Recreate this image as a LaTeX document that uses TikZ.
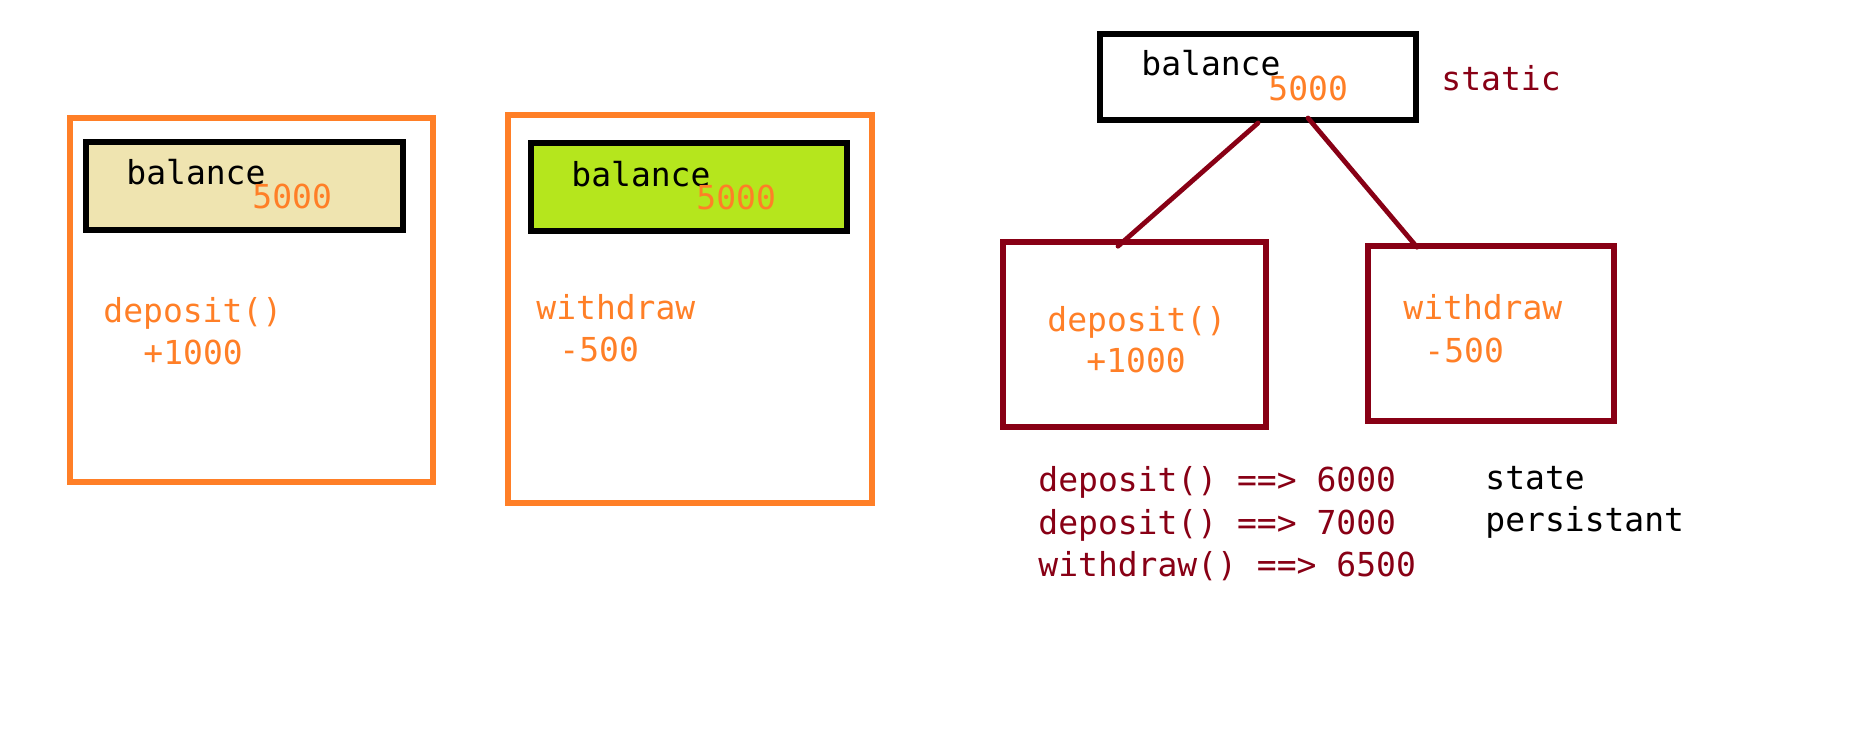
\documentclass[tikz,border=0pt]{standalone}
\usepackage{fontspec}
\setmonofont{DejaVu Sans Mono}
\definecolor{paintorange}{HTML}{FF7F27}
\definecolor{tan}{HTML}{EFE4B0}
\definecolor{lime}{HTML}{B5E61D}
\definecolor{darkred}{HTML}{880015}
\tikzset{
  frame/.style={draw=paintorange,line width=2.8pt},
  var/.style={draw=black,line width=3pt},
  meth/.style={draw=darkred,line width=2.8pt},
  code/.style={font=\ttfamily\fontsize{16.5}{20}\selectfont,inner sep=0pt,anchor=base west},
  link/.style={draw=darkred,line width=2.4pt,line cap=round},
}

\begin{document}
\begin{tikzpicture}[x=0.5pt,y=-0.5pt]
  \useasboundingbox (0,0) rectangle (1852,743);
  \node [frame,minimum width=181.5pt,minimum height=182pt] (obja) at (251.5,300) {};
  \node [var,fill=tan,minimum width=158.5pt,minimum height=44pt] (bala) at (244.5,186) {};
  \node [code] (balta) at (126,185) {balance};
  \node [code,paintorange] (vala) at (252,209) {5000};
  \node [code,paintorange] (depa) at (103,322) {deposit()};
  \node [code,paintorange] (amta) at (143,364) {+1000};

  \node [frame,minimum width=182pt,minimum height=194pt] (objb) at (690,309) {};
  \node [var,fill=lime,minimum width=158pt,minimum height=44pt] (balb) at (689,187) {};
  \node [code] (baltb) at (571,187) {balance};
  \node [code,paintorange] (valb) at (696,210) {5000};
  \node [code,paintorange] (withb) at (536,320) {withdraw};
  \node [code,paintorange] (amtb) at (559,361) {-500};

  \node [var,minimum width=158pt,minimum height=43pt] (stat) at (1258,77) {};
  \node [code] (balts) at (1141,76) {balance};
  \node [code,paintorange] (vals) at (1268,101) {5000};
  \node [code,darkred] (statl) at (1441,91) {static};

  \node [meth,minimum width=131.5pt,minimum height=92.5pt] (dep) at (1134.5,334.5) {};
  \node [code,paintorange] (depl) at (1047,331) {deposit()};
  \node [code,paintorange] (depn) at (1086,372) {+1000};
  \node [meth,minimum width=123pt,minimum height=87.5pt] (with) at (1491,333.5) {};
  \node [code,paintorange] (withl) at (1403,320) {withdraw};
  \node [code,paintorange] (withn) at (1424,362) {-500};

  \draw [link] (stat.south) -- ([xshift=-8.25pt,yshift=-3.5pt]dep.north);
  \draw [link] ([xshift=25pt,yshift=2.5pt]stat.south) -- ([xshift=-37pt,yshift=-2pt]with.north);

  \node [code,darkred] (runa) at (1038,491) {deposit() ==> 6000};
  \node [code,darkred] (runb) at (1038,534) {deposit() ==> 7000};
  \node [code,darkred] (runc) at (1038,576) {withdraw() ==> 6500};
  \node [code] (state) at (1485,489) {state};
  \node [code] (pers) at (1485,531) {persistant};
\end{tikzpicture}
\end{document}
